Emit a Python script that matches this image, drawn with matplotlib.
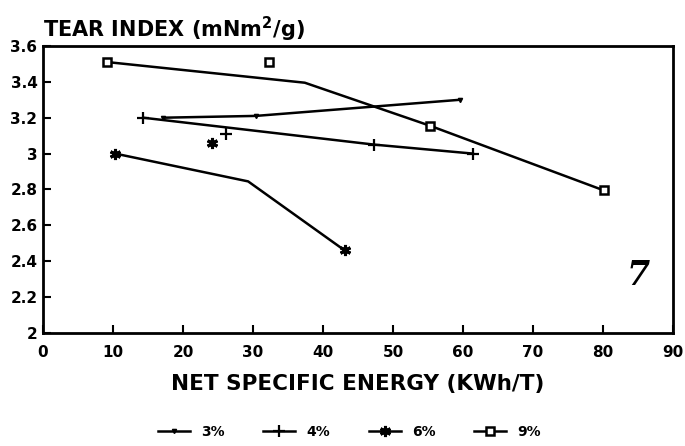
import matplotlib
matplotlib.use("Agg")
import matplotlib.pyplot as plt

# --- data ---
energi_3 = [17.2, 30.4, 59.6]
tear_3 = [3.20, 3.21, 3.30]

energi_4 = [14.3, 47.3, 61.4]
tear_4 = [3.20, 3.05, 3.00]

energi_6 = [10.3, 29.3, 43.1]
tear_6 = [3.00, 2.845, 2.46]

energi_9 = [9.2, 37.4, 55.3, 80.1]
tear_9 = [3.51, 3.395, 3.155, 2.795]

# markers that sit loose in the plot (not on a line)
lepas_4 = ([26.1], [3.11])
lepas_6 = ([24.2], [3.06])
lepas_9 = ([32.3], [3.51])

label_seri = ["3%", "4%", "6%", "9%"]
xticks = [0, 10, 20, 30, 40, 50, 60, 70, 80, 90]
yticks = [2.0, 2.2, 2.4, 2.6, 2.8, 3.0, 3.2, 3.4, 3.6]
ytick_labels = ["2", "2.2", "2.4", "2.6", "2.8", "3", "3.2", "3.4", "3.6"]

plt.rcParams['font.family'] = ['DejaVu Sans']
plt.rcParams['font.weight'] = 'bold'

fig = plt.figure(figsize=(6.85, 4.46), dpi=100)
ax = fig.add_axes([0.0628, 0.2534, 0.9197, 0.6436])

lw = 1.8
l3, = ax.plot(energi_3, tear_3, color='black', lw=lw, marker='v', ms=3,
              label=label_seri[0])
l4, = ax.plot(energi_4, tear_4, color='black', lw=lw, marker='+', ms=8,
              mew=1.6, label=label_seri[1])
l6, = ax.plot(energi_6, tear_6, color='black', lw=lw, marker=(6, 2, 0), ms=8,
              mew=2.2, markevery=[0, 2], label=label_seri[2])
l9, = ax.plot(energi_9, tear_9, color='black', lw=lw, marker='s', ms=6,
              mfc='white', mew=1.8, markevery=[0, 2, 3], label=label_seri[3])

ax.plot(*lepas_4, ls='none', color='black', marker='+', ms=8, mew=1.6)
ax.plot(*lepas_6, ls='none', color='black', marker=(6, 2, 0), ms=8, mew=2.2)
ax.plot(*lepas_9, ls='none', color='black', marker='s', ms=6, mfc='white', mew=1.8)

ax.set_xlim(0, 90)
ax.set_ylim(2.0, 3.6)
ax.set_xticks(xticks)
ax.set_yticks(yticks)
ax.set_yticklabels(ytick_labels)
ax.tick_params(direction='in', length=6, width=1.5, labelsize=11)
ax.tick_params(axis='x', pad=9)
ax.tick_params(axis='y', pad=4)
for lbl in ax.get_xticklabels() + ax.get_yticklabels():
    lbl.set_fontweight('heavy')
for sp in ax.spines.values():
    sp.set_linewidth(2)

ax.set_xlabel("NET SPECIFIC ENERGY (KWh/T)", fontsize=15.5, fontweight='bold', labelpad=10)
fig.text(0.063, 0.933, r"TEAR INDEX (mNm$^{\mathbf{2}}$/g)", fontsize=15,
         fontweight='bold', ha='left', va='center')

ax.text(85, 2.32, "7", fontsize=24, fontweight='bold', family='DejaVu Serif',
        style='italic', ha='center', va='center')

fig.legend(handles=[l3, l4, l6, l9], loc='center', bbox_to_anchor=(0.51, 0.032),
           ncol=4, frameon=False, handlelength=2.3,
           columnspacing=2.8, prop={'weight': 'heavy', 'size': 10})

fig.savefig("out.png", dpi=100)
